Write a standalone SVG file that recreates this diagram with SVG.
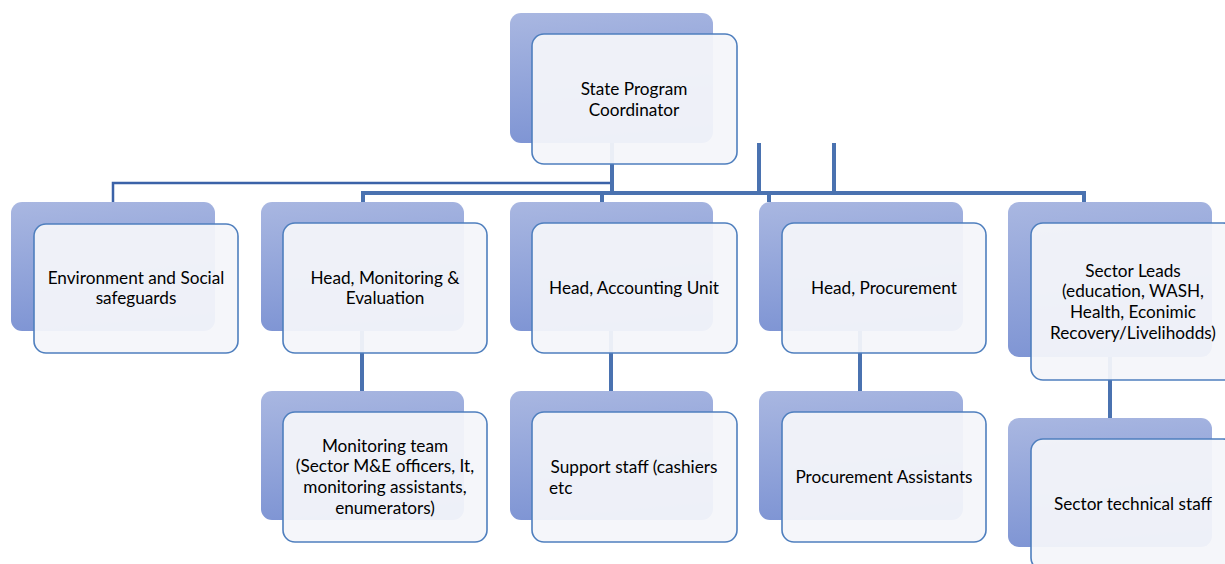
<svg xmlns="http://www.w3.org/2000/svg" width="1225" height="564" viewBox="0 0 1225 564">
<defs>
<linearGradient id="bg" x1="0" y1="0" x2="0.15" y2="1">
<stop offset="0" stop-color="#a9b7e1"/>
<stop offset="1" stop-color="#7f95d4"/>
</linearGradient>
<style>
.back{fill:url(#bg);}
.front{fill:#f4f5fa;fill-opacity:0.94;stroke:#4f7fbe;stroke-width:1.6;}
.t{font-family:Lato,"Open Sans","Liberation Sans",sans-serif;font-size:17.2px;fill:#000;text-anchor:middle;}
.c{fill:none;stroke:#4a72b0;stroke-width:4;}
.thin{fill:none;stroke:#3b62a8;stroke-width:2.5;}
</style>
</defs>
<rect width="1225" height="564" fill="#fff"/>
<g id="connectors">
<path class="thin" d="M113,202 V183 H612"/>
<path class="c" d="M612,143 V195"/>
<path class="c" d="M363,202 V193 H1084 V202"/>
<path class="c" d="M602,193 V202 M769,193 V202"/>
<path class="c" d="M759,143 V193 M834,143 V193"/>
<path class="c" d="M362,331 V391 M611,331 V391 M860,331 V391 M1110,357 V418"/>
</g>
<g id="n-coordinator">
<rect class="back" x="510" y="13" width="203" height="130" rx="11"/>
<rect class="front" x="532" y="34" width="205" height="130" rx="12"/>
<text class="t" x="634" y="95">State Program</text>
<text class="t" x="634" y="116">Coordinator</text>
</g>
<g id="n-env">
<rect class="back" x="11" y="202" width="204" height="129" rx="11"/>
<rect class="front" x="34" y="224" width="204" height="129" rx="12"/>
<text class="t" x="136" y="284">Environment and Social</text>
<text class="t" x="136" y="304">safeguards</text>
</g>
<g id="n-me">
<rect class="back" x="261" y="202" width="203" height="129" rx="11"/>
<rect class="front" x="283" y="223" width="204" height="130" rx="12"/>
<text class="t" x="385" y="284">Head, Monitoring &amp;</text>
<text class="t" x="385" y="304">Evaluation</text>
</g>
<g id="n-acc">
<rect class="back" x="510" y="202" width="203" height="129" rx="11"/>
<rect class="front" x="532" y="223" width="205" height="130" rx="12"/>
<text class="t" x="634" y="294">Head, Accounting Unit</text>
</g>
<g id="n-proc">
<rect class="back" x="759" y="202" width="204" height="129" rx="11"/>
<rect class="front" x="782" y="223" width="204" height="130" rx="12"/>
<text class="t" x="884" y="294">Head, Procurement</text>
</g>
<g id="n-sector">
<rect class="back" x="1008" y="202" width="204" height="155" rx="11"/>
<rect class="front" x="1031" y="223" width="204" height="157" rx="12"/>
<text class="t" x="1133" y="277">Sector Leads</text>
<text class="t" x="1133" y="297">(education, WASH,</text>
<text class="t" x="1133" y="318">Health, Econimic</text>
<text class="t" x="1133" y="339">Recovery/Livelihodds)</text>
</g>
<g id="n-mteam">
<rect class="back" x="261" y="391" width="203" height="129" rx="11"/>
<rect class="front" x="283" y="412" width="204" height="130" rx="12"/>
<text class="t" x="385" y="452">Monitoring team</text>
<text class="t" x="385" y="472">(Sector M&amp;E officers, It,</text>
<text class="t" x="385" y="493">monitoring assistants,</text>
<text class="t" x="385" y="514">enumerators)</text>
</g>
<g id="n-support">
<rect class="back" x="510" y="391" width="203" height="129" rx="11"/>
<rect class="front" x="532" y="412" width="205" height="130" rx="12"/>
<text class="t" x="634" y="473">Support staff (cashiers</text>
<text class="t" x="549" y="494" style="text-anchor:start">etc</text>
</g>
<g id="n-passist">
<rect class="back" x="759" y="391" width="204" height="129" rx="11"/>
<rect class="front" x="782" y="412" width="204" height="130" rx="12"/>
<text class="t" x="884" y="483">Procurement Assistants</text>
</g>
<g id="n-tech">
<rect class="back" x="1008" y="418" width="204" height="129" rx="11"/>
<rect class="front" x="1031" y="439" width="204" height="131" rx="12"/>
<text class="t" x="1133" y="510">Sector technical staff</text>
</g>
</svg>
